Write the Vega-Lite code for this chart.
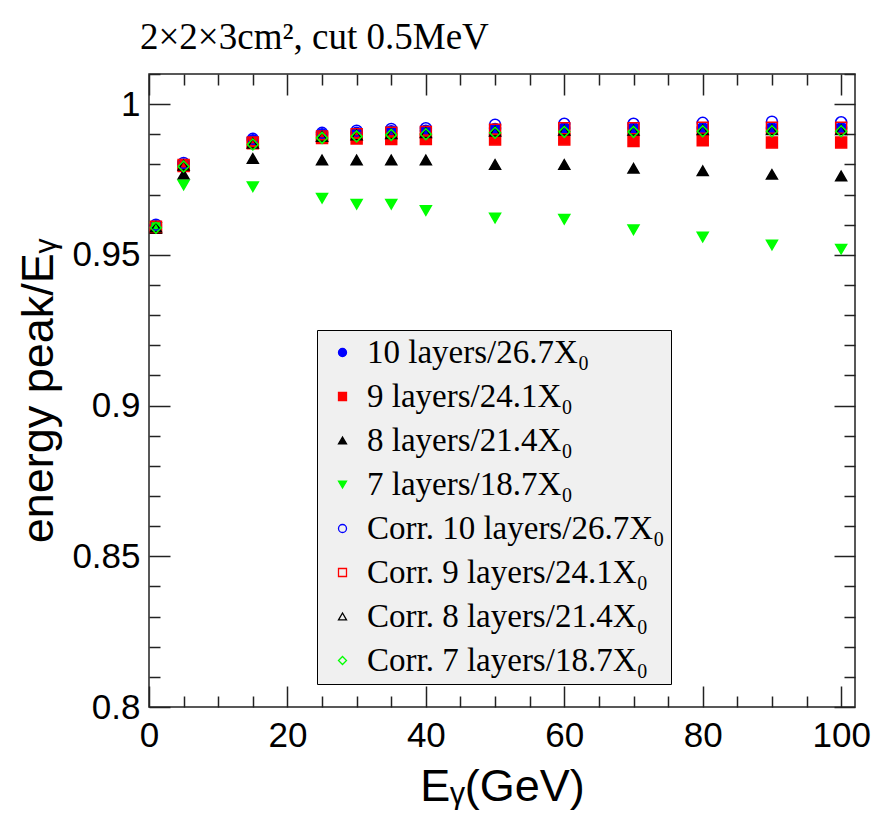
{
  "$schema": "https://vega.github.io/schema/vega-lite/v6.json",
  "width": 706,
  "height": 633,
  "autosize": {"type": "none"},
  "padding": {"left": 149, "top": 74, "right": 18, "bottom": 113},
  "background": "white",
  "config": {
    "view": {"stroke": "#222222", "strokeWidth": 1.5},
    "axis": {
      "domain": false,
      "grid": false,
      "tickColor": "#222222",
      "tickWidth": 1.5,
      "labelFont": "Liberation Sans",
      "titleFont": "Liberation Sans",
      "labelColor": "black",
      "titleColor": "black",
      "titleFontWeight": "normal",
      "labelFlush": false,
      "labelOverlap": false
    }
  },
  "title": {
    "text": "2×2×3cm², cut 0.5MeV",
    "font": "Liberation Serif",
    "fontSize": 37,
    "fontWeight": "normal",
    "color": "black",
    "anchor": "start",
    "frame": "group",
    "dx": -9,
    "baseline": "alphabetic",
    "offset": -13
  },
  "data": {
    "values": [
      {"s": "10 layers/26.7X₀", "E": 1, "r": 0.9595}, {"s": "10 layers/26.7X₀", "E": 5, "r": 0.98}, {"s": "10 layers/26.7X₀", "E": 15, "r": 0.988}, {"s": "10 layers/26.7X₀", "E": 25, "r": 0.99}, {"s": "10 layers/26.7X₀", "E": 30, "r": 0.9905}, {"s": "10 layers/26.7X₀", "E": 35, "r": 0.991}, {"s": "10 layers/26.7X₀", "E": 40, "r": 0.9912}, {"s": "10 layers/26.7X₀", "E": 50, "r": 0.9918}, {"s": "10 layers/26.7X₀", "E": 60, "r": 0.992}, {"s": "10 layers/26.7X₀", "E": 70, "r": 0.992}, {"s": "10 layers/26.7X₀", "E": 80, "r": 0.992}, {"s": "10 layers/26.7X₀", "E": 90, "r": 0.992}, {"s": "10 layers/26.7X₀", "E": 100, "r": 0.992},
      {"s": "9 layers/24.1X₀", "E": 1, "r": 0.959}, {"s": "9 layers/24.1X₀", "E": 5, "r": 0.9795}, {"s": "9 layers/24.1X₀", "E": 15, "r": 0.987}, {"s": "9 layers/24.1X₀", "E": 25, "r": 0.9888}, {"s": "9 layers/24.1X₀", "E": 30, "r": 0.9886}, {"s": "9 layers/24.1X₀", "E": 35, "r": 0.9884}, {"s": "9 layers/24.1X₀", "E": 40, "r": 0.9884}, {"s": "9 layers/24.1X₀", "E": 50, "r": 0.9883}, {"s": "9 layers/24.1X₀", "E": 60, "r": 0.9883}, {"s": "9 layers/24.1X₀", "E": 70, "r": 0.9878}, {"s": "9 layers/24.1X₀", "E": 80, "r": 0.988}, {"s": "9 layers/24.1X₀", "E": 90, "r": 0.9873}, {"s": "9 layers/24.1X₀", "E": 100, "r": 0.9873},
      {"s": "8 layers/21.4X₀", "E": 1, "r": 0.9588}, {"s": "8 layers/21.4X₀", "E": 5, "r": 0.9767}, {"s": "8 layers/21.4X₀", "E": 15, "r": 0.982}, {"s": "8 layers/21.4X₀", "E": 25, "r": 0.9815}, {"s": "8 layers/21.4X₀", "E": 30, "r": 0.9815}, {"s": "8 layers/21.4X₀", "E": 35, "r": 0.9815}, {"s": "8 layers/21.4X₀", "E": 40, "r": 0.9815}, {"s": "8 layers/21.4X₀", "E": 50, "r": 0.98}, {"s": "8 layers/21.4X₀", "E": 60, "r": 0.98}, {"s": "8 layers/21.4X₀", "E": 70, "r": 0.9787}, {"s": "8 layers/21.4X₀", "E": 80, "r": 0.9779}, {"s": "8 layers/21.4X₀", "E": 90, "r": 0.9767}, {"s": "8 layers/21.4X₀", "E": 100, "r": 0.9762},
      {"s": "7 layers/18.7X₀", "E": 1, "r": 0.959}, {"s": "7 layers/18.7X₀", "E": 5, "r": 0.9732}, {"s": "7 layers/18.7X₀", "E": 15, "r": 0.9726}, {"s": "7 layers/18.7X₀", "E": 25, "r": 0.9688}, {"s": "7 layers/18.7X₀", "E": 30, "r": 0.9668}, {"s": "7 layers/18.7X₀", "E": 35, "r": 0.9668}, {"s": "7 layers/18.7X₀", "E": 40, "r": 0.9647}, {"s": "7 layers/18.7X₀", "E": 50, "r": 0.9622}, {"s": "7 layers/18.7X₀", "E": 60, "r": 0.9618}, {"s": "7 layers/18.7X₀", "E": 70, "r": 0.9583}, {"s": "7 layers/18.7X₀", "E": 80, "r": 0.9559}, {"s": "7 layers/18.7X₀", "E": 90, "r": 0.9533}, {"s": "7 layers/18.7X₀", "E": 100, "r": 0.9519},
      {"s": "Corr. 10 layers/26.7X₀", "E": 1, "r": 0.96}, {"s": "Corr. 10 layers/26.7X₀", "E": 5, "r": 0.9805}, {"s": "Corr. 10 layers/26.7X₀", "E": 15, "r": 0.9885}, {"s": "Corr. 10 layers/26.7X₀", "E": 25, "r": 0.9905}, {"s": "Corr. 10 layers/26.7X₀", "E": 30, "r": 0.9912}, {"s": "Corr. 10 layers/26.7X₀", "E": 35, "r": 0.9918}, {"s": "Corr. 10 layers/26.7X₀", "E": 40, "r": 0.992}, {"s": "Corr. 10 layers/26.7X₀", "E": 50, "r": 0.9932}, {"s": "Corr. 10 layers/26.7X₀", "E": 60, "r": 0.9935}, {"s": "Corr. 10 layers/26.7X₀", "E": 70, "r": 0.9935}, {"s": "Corr. 10 layers/26.7X₀", "E": 80, "r": 0.9938}, {"s": "Corr. 10 layers/26.7X₀", "E": 90, "r": 0.9942}, {"s": "Corr. 10 layers/26.7X₀", "E": 100, "r": 0.994},
      {"s": "Corr. 9 layers/24.1X₀", "E": 1, "r": 0.9593}, {"s": "Corr. 9 layers/24.1X₀", "E": 5, "r": 0.9798}, {"s": "Corr. 9 layers/24.1X₀", "E": 15, "r": 0.9873}, {"s": "Corr. 9 layers/24.1X₀", "E": 25, "r": 0.9893}, {"s": "Corr. 9 layers/24.1X₀", "E": 30, "r": 0.99}, {"s": "Corr. 9 layers/24.1X₀", "E": 35, "r": 0.9905}, {"s": "Corr. 9 layers/24.1X₀", "E": 40, "r": 0.9908}, {"s": "Corr. 9 layers/24.1X₀", "E": 50, "r": 0.9915}, {"s": "Corr. 9 layers/24.1X₀", "E": 60, "r": 0.992}, {"s": "Corr. 9 layers/24.1X₀", "E": 70, "r": 0.992}, {"s": "Corr. 9 layers/24.1X₀", "E": 80, "r": 0.9922}, {"s": "Corr. 9 layers/24.1X₀", "E": 90, "r": 0.9922}, {"s": "Corr. 9 layers/24.1X₀", "E": 100, "r": 0.9922},
      {"s": "Corr. 8 layers/21.4X₀", "E": 1, "r": 0.9592}, {"s": "Corr. 8 layers/21.4X₀", "E": 5, "r": 0.9797}, {"s": "Corr. 8 layers/21.4X₀", "E": 15, "r": 0.987}, {"s": "Corr. 8 layers/21.4X₀", "E": 25, "r": 0.9893}, {"s": "Corr. 8 layers/21.4X₀", "E": 30, "r": 0.9898}, {"s": "Corr. 8 layers/21.4X₀", "E": 35, "r": 0.9902}, {"s": "Corr. 8 layers/21.4X₀", "E": 40, "r": 0.9905}, {"s": "Corr. 8 layers/21.4X₀", "E": 50, "r": 0.991}, {"s": "Corr. 8 layers/21.4X₀", "E": 60, "r": 0.9913}, {"s": "Corr. 8 layers/21.4X₀", "E": 70, "r": 0.9913}, {"s": "Corr. 8 layers/21.4X₀", "E": 80, "r": 0.9915}, {"s": "Corr. 8 layers/21.4X₀", "E": 90, "r": 0.9915}, {"s": "Corr. 8 layers/21.4X₀", "E": 100, "r": 0.9915},
      {"s": "Corr. 7 layers/18.7X₀", "E": 1, "r": 0.959}, {"s": "Corr. 7 layers/18.7X₀", "E": 5, "r": 0.9793}, {"s": "Corr. 7 layers/18.7X₀", "E": 15, "r": 0.9866}, {"s": "Corr. 7 layers/18.7X₀", "E": 25, "r": 0.9888}, {"s": "Corr. 7 layers/18.7X₀", "E": 30, "r": 0.9893}, {"s": "Corr. 7 layers/18.7X₀", "E": 35, "r": 0.9898}, {"s": "Corr. 7 layers/18.7X₀", "E": 40, "r": 0.99}, {"s": "Corr. 7 layers/18.7X₀", "E": 50, "r": 0.9905}, {"s": "Corr. 7 layers/18.7X₀", "E": 60, "r": 0.9908}, {"s": "Corr. 7 layers/18.7X₀", "E": 70, "r": 0.9908}, {"s": "Corr. 7 layers/18.7X₀", "E": 80, "r": 0.991}, {"s": "Corr. 7 layers/18.7X₀", "E": 90, "r": 0.991}, {"s": "Corr. 7 layers/18.7X₀", "E": 100, "r": 0.991}
    ]
  },
  "layer": [
    {
      "mark": {"type": "point", "filled": true, "strokeWidth": 1.5, "opacity": 1},
      "encoding": {
        "x": {
          "field": "E", "type": "quantitative",
          "scale": {"domain": [0, 102], "nice": false, "zero": false},
          "axis": {"orient": "bottom", "values": [0, 20, 40, 60, 80, 100], "tickSize": -21, "labelFontSize": 35, "labelPadding": 32, "title": "Eᵧ(GeV)", "titleFontSize": 45, "titlePadding": 11}
        },
        "y": {
          "field": "r", "type": "quantitative",
          "scale": {"domain": [0.8, 1.01], "nice": false, "zero": false},
          "axis": {"orient": "left", "values": [0.8, 0.85, 0.9, 0.95, 1], "format": "~g", "tickSize": -21, "labelFontSize": 35, "labelPadding": 30, "title": "energy peak/Eᵧ", "titleFontSize": 45, "titlePadding": 10}
        },
        "shape": {
          "field": "s", "type": "nominal",
          "scale": {
            "domain": ["10 layers/26.7X₀", "9 layers/24.1X₀", "8 layers/21.4X₀", "7 layers/18.7X₀", "Corr. 10 layers/26.7X₀", "Corr. 9 layers/24.1X₀", "Corr. 8 layers/21.4X₀", "Corr. 7 layers/18.7X₀"],
            "range": ["circle", "square", "triangle-up", "triangle-down", "circle", "square", "triangle-up", "diamond"]
          },
          "legend": {
            "orient": "none", "legendX": 168, "legendY": 256, "title": null,
            "fillColor": "#f0f0f0", "strokeColor": "black", "padding": 6,
            "labelFont": "Liberation Serif", "labelFontSize": 33, "labelColor": "black",
            "symbolSize": 64, "symbolStrokeWidth": 1.3, "symbolOffset": 3, "labelOffset": 8, "rowPadding": 10,
            "labelLimit": 600
          }
        },
        "fill": {
          "field": "s", "type": "nominal",
          "scale": {
            "domain": ["10 layers/26.7X₀", "9 layers/24.1X₀", "8 layers/21.4X₀", "7 layers/18.7X₀", "Corr. 10 layers/26.7X₀", "Corr. 9 layers/24.1X₀", "Corr. 8 layers/21.4X₀", "Corr. 7 layers/18.7X₀"],
            "range": ["#0000ff", "#ff0000", "#000000", "#00ff00", "transparent", "transparent", "transparent", "transparent"]
          },
          "legend": {
            "orient": "none", "legendX": 168, "legendY": 256, "title": null,
            "fillColor": "#f0f0f0", "strokeColor": "black", "padding": 6,
            "labelFont": "Liberation Serif", "labelFontSize": 33, "labelColor": "black",
            "symbolSize": 64, "symbolStrokeWidth": 1.3, "symbolOffset": 3, "labelOffset": 8, "rowPadding": 10,
            "labelLimit": 600
          }
        },
        "stroke": {
          "field": "s", "type": "nominal",
          "scale": {
            "domain": ["10 layers/26.7X₀", "9 layers/24.1X₀", "8 layers/21.4X₀", "7 layers/18.7X₀", "Corr. 10 layers/26.7X₀", "Corr. 9 layers/24.1X₀", "Corr. 8 layers/21.4X₀", "Corr. 7 layers/18.7X₀"],
            "range": ["#0000ff", "#ff0000", "#000000", "#00ff00", "#0000ff", "#ff0000", "#000000", "#00ff00"]
          },
          "legend": {
            "orient": "none", "legendX": 168, "legendY": 256, "title": null,
            "fillColor": "#f0f0f0", "strokeColor": "black", "padding": 6,
            "labelFont": "Liberation Serif", "labelFontSize": 33, "labelColor": "black",
            "symbolSize": 64, "symbolStrokeWidth": 1.3, "symbolOffset": 3, "labelOffset": 8, "rowPadding": 10,
            "labelLimit": 600
          }
        },
        "size": {"value": 120}
      }
    },
    {
      "mark": {"type": "point", "opacity": 0},
      "encoding": {
        "x": {"field": "E", "type": "quantitative", "axis": {"orient": "bottom", "values": [5, 10, 15, 25, 30, 35, 45, 50, 55, 65, 70, 75, 85, 90, 95], "tickSize": -11, "labels": false, "title": null}},
        "y": {"field": "r", "type": "quantitative", "axis": {"orient": "left", "values": [0.81, 0.82, 0.83, 0.84, 0.86, 0.87, 0.88, 0.89, 0.91, 0.92, 0.93, 0.94, 0.96, 0.97, 0.98, 0.99, 1.01], "tickSize": -11, "labels": false, "title": null}}
      }
    },
    {
      "mark": {"type": "point", "opacity": 0},
      "encoding": {
        "x": {"field": "E", "type": "quantitative", "axis": {"orient": "top", "values": [0, 20, 40, 60, 80, 100], "tickSize": -21, "labels": false, "title": null}},
        "y": {"field": "r", "type": "quantitative", "axis": {"orient": "right", "values": [0.8, 0.85, 0.9, 0.95, 1], "tickSize": -21, "labels": false, "title": null}}
      }
    },
    {
      "mark": {"type": "point", "opacity": 0},
      "encoding": {
        "x": {"field": "E", "type": "quantitative", "axis": {"orient": "top", "values": [5, 10, 15, 25, 30, 35, 45, 50, 55, 65, 70, 75, 85, 90, 95], "tickSize": -11, "labels": false, "title": null}},
        "y": {"field": "r", "type": "quantitative", "axis": {"orient": "right", "values": [0.81, 0.82, 0.83, 0.84, 0.86, 0.87, 0.88, 0.89, 0.91, 0.92, 0.93, 0.94, 0.96, 0.97, 0.98, 0.99, 1.01], "tickSize": -11, "labels": false, "title": null}}
      }
    }
  ],
  "resolve": {"axis": {"x": "independent", "y": "independent"}}
}
